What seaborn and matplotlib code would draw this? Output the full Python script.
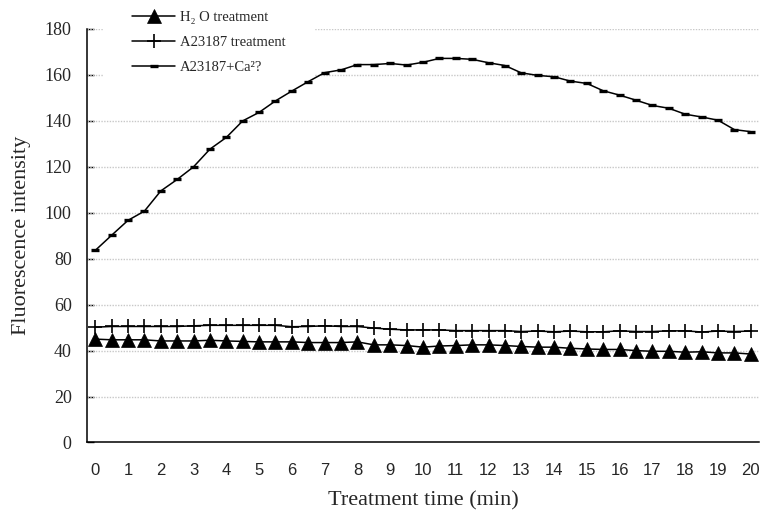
import matplotlib
matplotlib.use("Agg")
import matplotlib.pyplot as plt
import seaborn as sns

# treatment time (min)
times = [0, 0.5, 1, 1.5, 2, 2.5, 3, 3.5, 4, 4.5, 5, 5.5, 6, 6.5, 7, 7.5, 8, 8.5, 9, 9.5, 10,
         10.5, 11, 11.5, 12, 12.5, 13, 13.5, 14, 14.5, 15, 15.5, 16, 16.5, 17, 17.5, 18, 18.5,
         19, 19.5, 20]

h2o = [45.0, 44.7, 44.7, 44.7, 44.2, 44.2, 44.2, 44.5, 44.2, 44.0, 43.8, 43.8, 43.8, 43.5,
       43.5, 43.5, 43.8, 42.5, 42.5, 42.2, 41.5, 42.0, 42.2, 42.5, 42.5, 42.2, 41.8, 41.5,
       41.5, 41.0, 40.7, 40.5, 40.5, 40.0, 39.7, 39.7, 39.3, 39.5, 39.0, 39.0, 38.5]

a23187 = [50.2, 50.5, 50.5, 50.5, 50.5, 50.5, 50.8, 51.0, 51.0, 51.0, 51.0, 51.0, 50.4, 50.5,
          50.8, 50.5, 50.5, 49.8, 49.3, 49.0, 49.0, 49.0, 48.7, 48.7, 48.7, 48.7, 48.3, 48.5,
          48.2, 48.5, 48.2, 48.2, 48.6, 48.3, 48.3, 48.6, 48.6, 48.1, 48.5, 48.3, 48.5]

a23187_ca = [83.6, 90.2, 96.7, 100.7, 109.5, 114.5, 120.0, 127.7, 132.8, 140.0, 143.7, 148.7,
             153.0, 157.1, 161.0, 162.2, 164.5, 164.5, 165.0, 164.3, 165.5, 167.2, 167.2, 166.8,
             165.3, 164.1, 160.9, 159.8, 159.2, 157.3, 156.3, 153.1, 151.2, 149.0, 146.7, 145.5,
             142.9, 141.7, 140.3, 136.2, 135.3]

labels = ["H\u2082 O treatment", "A23187 treatment", "A23187+Ca\u00b2?"]
x_ticks = list(range(0, 21))
y_ticks = [0, 20, 40, 60, 80, 100, 120, 140, 160, 180]

sns.set_style("white")
serif = ["Liberation Serif", "DejaVu Serif"]
sans = ["Liberation Sans", "DejaVu Sans"]

fig = plt.figure(figsize=(7.62, 5.15), dpi=100)
ax = fig.add_axes([0.1142, 0.1408, 0.8818, 0.8029])

sns.lineplot(x=times, y=h2o, ax=ax, color="k", lw=1.1, marker="^", markersize=10.5,
             markeredgecolor="k", markerfacecolor="k", markeredgewidth=0.5,
             label=labels[0], zorder=6)
sns.lineplot(x=times, y=a23187, ax=ax, color="k", lw=1.1, marker="+", markersize=10,
             markeredgecolor="k", markeredgewidth=1.2, label=labels[1], zorder=6)
sns.lineplot(x=times, y=a23187_ca, ax=ax, color="k", lw=1.1, marker="_", markersize=6,
             markeredgecolor="k", markeredgewidth=2.4, label=labels[2], zorder=6)

ax.set_xlim(-0.25, 20.25)
ax.set_ylim(0, 180)

# category boundaries get the tick marks, labels sit on the points
ax.set_xticks(x_ticks)
ax.set_xticklabels([str(v) for v in x_ticks], family=sans, fontsize=12)
ax.set_xticks([t - 0.25 for t in times] + [times[-1] + 0.25], minor=True)
ax.tick_params(axis="x", which="major", length=0, pad=15)
ax.tick_params(axis="x", which="minor", direction="in", length=5, width=1, color="k")

ax.set_yticks(y_ticks)
ax.set_yticklabels([str(v) for v in y_ticks], family=serif, fontsize=13)
ax.tick_params(axis="y", direction="in", length=5, width=1, color="k", left=True, pad=11)

for v in y_ticks[1:]:
    ax.axhline(v, color="#c8c8c8", lw=1, ls=(0, (1, 1)), zorder=1)

sns.despine(ax=ax)
for s in ["left", "bottom"]:
    ax.spines[s].set_color("k")
    ax.spines[s].set_linewidth(1.1)

ax.set_xlabel("Treatment time (min)", family=serif, fontsize=16, labelpad=9)
ax.set_ylabel("Fluorescence intensity", family=serif, fontsize=16, labelpad=10)

leg = ax.legend(loc="upper left", bbox_to_anchor=(0.135, 1.036), bbox_transform=fig.transFigure,
                prop={"family": serif, "size": 10.5}, frameon=True, fancybox=False,
                borderpad=2, handlelength=2.95, handletextpad=0.35, labelspacing=0.82,
                numpoints=1, borderaxespad=0)
leg.get_frame().set_facecolor("white")
leg.get_frame().set_edgecolor("none")
leg.get_frame().set_alpha(1)

fig.savefig("out.png", dpi=100)
